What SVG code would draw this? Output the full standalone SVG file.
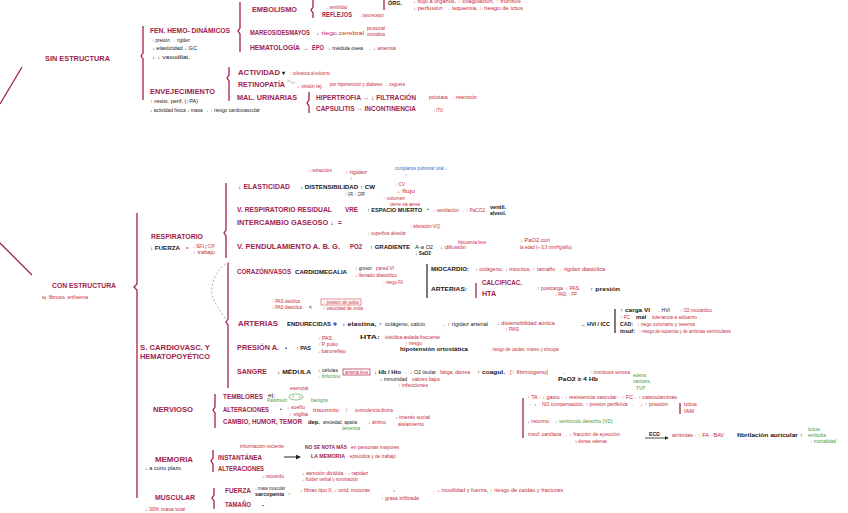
<svg xmlns="http://www.w3.org/2000/svg" width="848" height="513" viewBox="0 0 848 513">
<defs>
<marker id="ah" viewBox="0 0 6 6" refX="5" refY="3" markerWidth="5" markerHeight="5" orient="auto"><path d="M0,0 L6,3 L0,6 z" fill="#222"/></marker>
</defs>
<style>
text{font-family:"Liberation Sans",Arial,sans-serif}
.H{font-weight:bold;font-size:8px;fill:#a0234d}
.h{font-weight:bold;font-size:6.3px;fill:#a0234d}
.k{font-size:4.5px;fill:#222}
.kb{font-weight:bold;font-size:5.5px;fill:#151515}
.r{font-size:4.5px;fill:#c62a3a}
.g{font-size:4.5px;fill:#3f9a3f}
.b{font-size:4.5px;fill:#3a64c8}
.br{fill:none;stroke:#a0234d;stroke-width:1.3}
.bk{fill:none;stroke:#222;stroke-width:1.2}
.ds{fill:none;stroke:#999;stroke-width:.8;stroke-dasharray:2 2}
</style>
<rect width="848" height="513" fill="#fff"/>

<g id="connectors">
<path class="br" d="M0,104 L22,67"/>
<path class="br" d="M0,243 L32,275"/>
<path class="br" d="M143,26 V53 l-2,3 l2,3 V100"/>
<path class="br" d="M240,2 V28 l-2,3 l2,3 V52"/>
<path class="br" d="M229,67 V75 l-2,3 l2,3 V101"/>
<path class="br" d="M313,0 V7 l-2,3 l2,3 V18"/>
<path class="br" d="M384,0 V10"/>
<path class="br" d="M309,92 V100 l-2,3 l2,3 V113"/>
<path class="br" d="M137,213 V284 l-3,3 l3,3 V498"/>
<path class="br" d="M226,183 V230 l-2,3 l2,3 V258"/>
<path class="br" d="M228,263 V319 l-2,3 l2,3 V388"/>
<path class="ds" d="M229,262 C214,270 209,288 213,298 S224,316 228,323"/>
<path class="bk" d="M427,264 V298"/>
<path class="br" d="M476,283 V298"/>
<path class="bk" d="M615,309 V333"/>
<path class="br" d="M215,394 V407 l-2,3 l2,3 V428"/>
<path class="br" d="M213,450 V458 l-2,3 l2,3 V472"/>
<path class="br" d="M214,488 V495 l-2,3 l2,3 V509"/>
<path class="br" d="M523,398 V438"/>
<path class="br" d="M680,403 V414"/>
<path d="M284,457 H300" stroke="#222" stroke-width="1" marker-end="url(#ah)"/>
<path d="M645,438 H668" stroke="#222" stroke-width=".8" marker-end="url(#ah)"/>
<path d="M287,82 q2,-3 4,0 t4,0" fill="none" stroke="#888" stroke-width=".6"/>
</g>

<g id="n-sin"><text class="H" x="45" y="61" textLength="65" lengthAdjust="spacingAndGlyphs">SIN ESTRUCTURA</text></g>

<g id="n-fen">
<text class="h" x="150" y="33" textLength="80" lengthAdjust="spacingAndGlyphs">FEN. HEMO- DINÁMICOS</text>
<text class="k" x="152" y="42" textLength="38" lengthAdjust="spacingAndGlyphs">↑ presión → rigidez</text>
<text class="k" x="152" y="50" textLength="45" lengthAdjust="spacingAndGlyphs">↓ elasticidad ↓ GC</text>
<text class="k" x="152" y="59" textLength="38" lengthAdjust="spacingAndGlyphs">↓ ↓ vasodilat.</text>
</g>

<g id="n-env">
<text class="h" x="150" y="94" textLength="65" lengthAdjust="spacingAndGlyphs">ENVEJECIMIENTO</text>
<text class="k" x="150" y="103" textLength="48" lengthAdjust="spacingAndGlyphs">↑ resist. perif. (↑PA)</text>
<text class="k" x="150" y="112" textLength="110" lengthAdjust="spacingAndGlyphs">↓ actividad física ↓ masa → ↑ riesgo cardiovascular</text>
</g>

<g id="n-emb">
<text class="h" x="252" y="12" textLength="45" lengthAdjust="spacingAndGlyphs">EMBOLISMO</text>
<text class="kb" x="388" y="5" textLength="14" lengthAdjust="spacingAndGlyphs">ÓRG.</text>
<text class="r" x="413" y="3" textLength="115" lengthAdjust="spacingAndGlyphs">↓ flujo a órganos, ↑ coagulación, ↑ trombos →</text>
<text class="r" x="413" y="10" textLength="110" lengthAdjust="spacingAndGlyphs">↓ perfusión → isquemia, ↑ riesgo de ictus</text>
<text class="h" x="322" y="17" textLength="30" lengthAdjust="spacingAndGlyphs">REFLEJOS</text>
<text class="r" x="360" y="17" textLength="24" lengthAdjust="spacingAndGlyphs">↓ barorreceptor</text>
<text class="r" x="327" y="9" textLength="20" lengthAdjust="spacingAndGlyphs">↓ sensibilidad</text>
</g>

<g id="n-mar">
<text class="h" x="250" y="35" textLength="60" lengthAdjust="spacingAndGlyphs">MAREOS/DESMAYOS</text>
<text class="r" x="316" y="35" textLength="48" lengthAdjust="spacingAndGlyphs">↓ riego cerebral</text>
<text class="r" x="367" y="30" textLength="18" lengthAdjust="spacingAndGlyphs">postural</text>
<text class="r" x="367" y="36" textLength="18" lengthAdjust="spacingAndGlyphs">ortostática</text>
</g>

<g id="n-hem">
<text class="h" x="250" y="50" textLength="50" lengthAdjust="spacingAndGlyphs">HEMATOLOGÍA</text>
<text class="kb" x="303" y="50">→</text>
<text class="h" x="312" y="50" textLength="12" lengthAdjust="spacingAndGlyphs">EPO</text>
<text class="k" x="328" y="50" textLength="35" lengthAdjust="spacingAndGlyphs">↓ médula ósea</text>
<text class="r" x="366" y="50" textLength="30" lengthAdjust="spacingAndGlyphs">→ ↓ anemia</text>
</g>

<g id="n-act">
<text class="h" x="238" y="75" textLength="42" lengthAdjust="spacingAndGlyphs">ACTIVIDAD</text>
<text class="kb" x="282" y="75">▾</text>
<text class="r" x="290" y="75" textLength="40" lengthAdjust="spacingAndGlyphs">↓ tolerancia al esfuerzo</text>
</g>

<g id="n-ret">
<text class="h" x="238" y="87" textLength="47" lengthAdjust="spacingAndGlyphs">RETINOPATÍA</text>
<text class="r" x="297" y="88" textLength="26" lengthAdjust="spacingAndGlyphs">↓ visión lej.</text>
<text class="r" x="330" y="86" textLength="75" lengthAdjust="spacingAndGlyphs">por hipertensión y diabetes → ceguera</text>
</g>

<g id="n-mal">
<text class="h" x="237" y="100" textLength="60" lengthAdjust="spacingAndGlyphs">MAL. URINARIAS</text>
<text class="h" x="316" y="100" textLength="100" lengthAdjust="spacingAndGlyphs">HIPERTROFIA → ↓ FILTRACIÓN</text>
<text class="r" x="429" y="99" textLength="48" lengthAdjust="spacingAndGlyphs">próstata → retención</text>
<text class="h" x="316" y="111" textLength="100" lengthAdjust="spacingAndGlyphs">CAPSULITIS → INCONTINENCIA</text>
<text class="r" x="433" y="112" textLength="10" lengthAdjust="spacingAndGlyphs">↑ ITU</text>
</g>

<g id="n-con">
<text class="H" x="52" y="288" textLength="64" lengthAdjust="spacingAndGlyphs">CON ESTRUCTURA</text>
<text class="r" x="42" y="299" textLength="46" lengthAdjust="spacingAndGlyphs">ej. fibrosis, enfisema</text>
</g>

<g id="n-resp">
<text class="h" x="151" y="239" textLength="52" lengthAdjust="spacingAndGlyphs">RESPIRATORIO</text>
<text class="kb" x="150" y="250" textLength="30" lengthAdjust="spacingAndGlyphs">↓ FUERZA</text>
<text class="r" x="186" y="250">=</text>
<text class="r" x="193" y="248" textLength="22" lengthAdjust="spacingAndGlyphs">↓ VEF1 y CVF</text>
<text class="r" x="193" y="254" textLength="22" lengthAdjust="spacingAndGlyphs">↑ trabajo</text>
</g>

<g id="n-elas">
<text class="h" x="238" y="189" textLength="52" lengthAdjust="spacingAndGlyphs">↓ ELASTICIDAD</text>
<text class="kb" x="300" y="189" textLength="75" lengthAdjust="spacingAndGlyphs">↓ DISTENSIBILIDAD ↑ CW</text>
<text class="r" x="308" y="172" textLength="24" lengthAdjust="spacingAndGlyphs">↓ retracción</text>
<text class="r" x="345" y="174" textLength="22" lengthAdjust="spacingAndGlyphs">↑ rigidez</text>
<text class="k" x="350" y="180">↑</text>
<text class="b" x="395" y="170" textLength="52" lengthAdjust="spacingAndGlyphs">compliance pulmonar total ↓</text>
<text class="b" x="405" y="176">↓</text>
<text class="k" x="345" y="196" textLength="20" lengthAdjust="spacingAndGlyphs">↑ VR, ↑ CRF</text>
<text class="r" x="395" y="186" textLength="10" lengthAdjust="spacingAndGlyphs">↑ CV</text>
<text class="r" x="397" y="193" textLength="18" lengthAdjust="spacingAndGlyphs">↓ flujo</text>
</g>

<g id="n-vr">
<text class="h" x="237" y="212" textLength="95" lengthAdjust="spacingAndGlyphs">V. RESPIRATORIO RESIDUAL</text>
<text class="h" x="345" y="212" textLength="13" lengthAdjust="spacingAndGlyphs">VRE</text>
<text class="kb" x="367" y="212" textLength="55" lengthAdjust="spacingAndGlyphs">↑ ESPACIO MUERTO</text>
<text class="k" x="427" y="211">•</text>
<text class="r" x="433" y="212" textLength="52" lengthAdjust="spacingAndGlyphs">↓ ventilación → ↑ PaCO2</text>
<text class="kb" x="490" y="209" textLength="16" lengthAdjust="spacingAndGlyphs">ventil.</text>
<text class="kb" x="490" y="215" textLength="16" lengthAdjust="spacingAndGlyphs">alveol.</text>
<text class="r" x="383" y="200" textLength="22" lengthAdjust="spacingAndGlyphs">↑ volumen</text>
<text class="r" x="390" y="205.5" textLength="30" lengthAdjust="spacingAndGlyphs">cierre vía aérea</text>
</g>

<g id="n-ig">
<text class="h" x="237" y="225" textLength="97" lengthAdjust="spacingAndGlyphs">INTERCAMBIO GASEOSO ↓</text>
<text class="h" x="338" y="225">=</text>
<text class="r" x="368" y="234.5" textLength="38" lengthAdjust="spacingAndGlyphs">↓ superficie alveolar</text>
<text class="r" x="410" y="228" textLength="30" lengthAdjust="spacingAndGlyphs">↑ alteración V/Q</text>
</g>

<g id="n-vp">
<text class="h" x="237" y="249" textLength="103" lengthAdjust="spacingAndGlyphs">V. PENDULAMIENTO A. B. G.</text>
<text class="h" x="350" y="249" textLength="12" lengthAdjust="spacingAndGlyphs">PO2</text>
<text class="kb" x="370" y="249" textLength="40" lengthAdjust="spacingAndGlyphs">↑ GRADIENTE</text>
<text class="k" x="415" y="249" textLength="18" lengthAdjust="spacingAndGlyphs">A-a O2</text>
<text class="kb" x="415" y="255" textLength="16" lengthAdjust="spacingAndGlyphs">↓ SaO2</text>
<text class="r" x="440" y="249" textLength="26" lengthAdjust="spacingAndGlyphs">↓ difusión</text>
<text class="r" x="458" y="243.5" textLength="28" lengthAdjust="spacingAndGlyphs">hipoxemia leve</text>
<text class="r" x="520" y="242" textLength="30" lengthAdjust="spacingAndGlyphs">↓ PaO2 con</text>
<text class="r" x="520" y="249" textLength="52" lengthAdjust="spacingAndGlyphs">la edad (≈ 0,3 mmHg/año)</text>
</g>

<g id="n-cardio">
<text class="h" x="140" y="350" textLength="70" lengthAdjust="spacingAndGlyphs">S. CARDIOVASC. Y</text>
<text class="h" x="140" y="359" textLength="70" lengthAdjust="spacingAndGlyphs">HEMATOPOYÉTICO</text>
</g>

<g id="n-cor">
<text class="h" x="237" y="274" textLength="54" lengthAdjust="spacingAndGlyphs">CORAZÓN/VASOS</text>
<text class="kb" x="295" y="274" textLength="52" lengthAdjust="spacingAndGlyphs">CARDIOMEGALIA</text>
<text class="k" x="355" y="270" textLength="17" lengthAdjust="spacingAndGlyphs">↑ grosor</text>
<text class="r" x="376" y="270" textLength="18" lengthAdjust="spacingAndGlyphs">pared VI</text>
<text class="r" x="355" y="277" textLength="42" lengthAdjust="spacingAndGlyphs">↓ llenado diastólico</text>
<text class="r" x="383" y="283.5" textLength="20" lengthAdjust="spacingAndGlyphs">↑ riesgo FA</text>
<text class="kb" x="431" y="271" textLength="38" lengthAdjust="spacingAndGlyphs">MIOCARDIO:</text>
<text class="r" x="475" y="271" textLength="130" lengthAdjust="spacingAndGlyphs">↑ colágeno, ↓ miocitos, ↑ tamaño → rigidez diastólica</text>
<text class="kb" x="431" y="291" textLength="36" lengthAdjust="spacingAndGlyphs">ARTERIAS:</text>
<text class="h" x="482" y="285" textLength="40" lengthAdjust="spacingAndGlyphs">CALCIFICAC.</text>
<text class="h" x="482" y="296" textLength="14" lengthAdjust="spacingAndGlyphs">HTA</text>
<text class="r" x="537" y="290" textLength="42" lengthAdjust="spacingAndGlyphs">↑ postcarga, ↑ PAS</text>
<text class="r" x="555" y="296" textLength="22" lengthAdjust="spacingAndGlyphs">↓ PAD, ↑ PP</text>
<text class="kb" x="590" y="291" textLength="30" lengthAdjust="spacingAndGlyphs">↑ presión</text>
</g>

<g id="n-art">
<text class="r" x="272" y="303" textLength="28" lengthAdjust="spacingAndGlyphs">↑ PAS sistólica</text>
<text class="r" x="272" y="309" textLength="30" lengthAdjust="spacingAndGlyphs">↓ PAD diastólica</text>
<text class="h" x="309" y="309" style="font-size:5px">&lt;</text>
<rect x="321" y="299" width="40" height="6" fill="none" stroke="#c62a3a" stroke-width=".5"/>
<text class="r" x="323" y="303.5" textLength="36" lengthAdjust="spacingAndGlyphs">↑ presión de pulso</text>
<text class="r" x="323" y="310" textLength="40" lengthAdjust="spacingAndGlyphs">↑ velocidad de onda</text>
<text class="h" x="238" y="326" textLength="40" lengthAdjust="spacingAndGlyphs">ARTERIAS</text>
<text class="kb" x="287" y="326" textLength="44" lengthAdjust="spacingAndGlyphs">ENDURECIDAS</text>
<circle cx="335" cy="324" r="1.8" fill="#3a64c8"/>
<text class="kb" x="342" y="326" textLength="40" lengthAdjust="spacingAndGlyphs">↓ elastina, ↑</text>
<text class="k" x="385" y="326" textLength="40" lengthAdjust="spacingAndGlyphs">colágeno, calcio</text>
<text class="k" x="440" y="326" textLength="48" lengthAdjust="spacingAndGlyphs">→ ↑ rigidez arterial</text>
<text class="r" x="497" y="325" textLength="58" lengthAdjust="spacingAndGlyphs">↓ distensibilidad aórtica</text>
<text class="r" x="505" y="331" textLength="14" lengthAdjust="spacingAndGlyphs">↑ PAS</text>
<text class="r" x="440" y="334">·</text>
<text class="kb" x="580" y="326" textLength="30" lengthAdjust="spacingAndGlyphs">→ HVI / ICC</text>
<text class="kb" x="620" y="312" textLength="30" lengthAdjust="spacingAndGlyphs">↑ carga VI</text>
<text class="k" x="655" y="312" textLength="15" lengthAdjust="spacingAndGlyphs">→ HVI</text>
<text class="r" x="680" y="312" textLength="32" lengthAdjust="spacingAndGlyphs">↑ O2 miocárdico</text>
<text class="r" x="620" y="319" textLength="10" lengthAdjust="spacingAndGlyphs">↑ FC</text>
<text class="kb" x="636" y="319" textLength="10" lengthAdjust="spacingAndGlyphs">mal</text>
<text class="r" x="652" y="319" textLength="45" lengthAdjust="spacingAndGlyphs">tolerancia a esfuerzo</text>
<text class="kb" x="620" y="326" textLength="13" lengthAdjust="spacingAndGlyphs">CAD:</text>
<text class="r" x="637" y="326" textLength="58" lengthAdjust="spacingAndGlyphs">↓ riego coronario y reserva</text>
<text class="kb" x="620" y="333" textLength="15" lengthAdjust="spacingAndGlyphs">insuf:</text>
<text class="r" x="639" y="333" textLength="92" lengthAdjust="spacingAndGlyphs">↑ riesgo de isquemia y de arritmias ventriculares</text>
</g>

<g id="n-pres">
<text class="h" x="237" y="350" textLength="42" lengthAdjust="spacingAndGlyphs">PRESIÓN A.</text>
<text class="kb" x="285" y="350">•</text>
<text class="kb" x="296" y="350" textLength="15" lengthAdjust="spacingAndGlyphs">↑ PAS</text>
<text class="r" x="318" y="340" textLength="14" lengthAdjust="spacingAndGlyphs">↑ PAS</text>
<text class="r" x="318" y="346" textLength="20" lengthAdjust="spacingAndGlyphs">↑ P. pulso</text>
<text class="r" x="318" y="353" textLength="28" lengthAdjust="spacingAndGlyphs">↓ barorreflejo</text>
<text class="kb" x="360" y="339" textLength="20" lengthAdjust="spacingAndGlyphs">HTA:</text>
<text class="r" x="385" y="339" textLength="55" lengthAdjust="spacingAndGlyphs">sistólica aislada frecuente</text>
<text class="r" x="405" y="345" textLength="17" lengthAdjust="spacingAndGlyphs">↑ riesgo</text>
<text class="kb" x="400" y="351" textLength="68" lengthAdjust="spacingAndGlyphs">hipotensión ortostática</text>
<text class="r" x="487" y="351" textLength="72" lengthAdjust="spacingAndGlyphs">→ riesgo de caídas, mareo y síncope</text>
</g>

<g id="n-sang">
<text class="h" x="237" y="374" textLength="30" lengthAdjust="spacingAndGlyphs">SANGRE</text>
<text class="kb" x="277" y="374" textLength="34" lengthAdjust="spacingAndGlyphs">↓ MÉDULA</text>
<text class="k" x="318" y="372" textLength="20" lengthAdjust="spacingAndGlyphs">↓ células</text>
<text class="g" x="318" y="378" textLength="22" lengthAdjust="spacingAndGlyphs">↓ linfocitos</text>
<rect x="343" y="369" width="27" height="6" fill="none" stroke="#a0234d" stroke-width=".7"/>
<text class="r" x="345" y="373.5" textLength="23" lengthAdjust="spacingAndGlyphs">anemia leve</text>
<text class="kb" x="374" y="374" textLength="27" lengthAdjust="spacingAndGlyphs">↓ Hb / Hto</text>
<text class="k" x="403" y="374">→</text>
<text class="k" x="410" y="374" textLength="26" lengthAdjust="spacingAndGlyphs">↓ O2 tisular</text>
<text class="r" x="440" y="374" textLength="30" lengthAdjust="spacingAndGlyphs">fatiga, disnea</text>
<text class="kb" x="477" y="374" textLength="28" lengthAdjust="spacingAndGlyphs">↑ coagul.</text>
<text class="r" x="510" y="374" textLength="38" lengthAdjust="spacingAndGlyphs">[↑ fibrinógeno]</text>
<text class="r" x="558" y="374" textLength="8" lengthAdjust="spacingAndGlyphs">→</text>
<text class="r" x="590" y="374" textLength="40" lengthAdjust="spacingAndGlyphs">↑ trombosis venosa</text>
<text class="kb" x="558" y="381" textLength="40" lengthAdjust="spacingAndGlyphs">PaO2 ≥ 4 Hb</text>
<text class="k" x="380" y="381" textLength="27" lengthAdjust="spacingAndGlyphs">↓ inmunidad</text>
<text class="r" x="412" y="381" textLength="28" lengthAdjust="spacingAndGlyphs">valores bajos</text>
<text class="r" x="398" y="387" textLength="30" lengthAdjust="spacingAndGlyphs">↑ infecciones</text>
<text class="g" x="633" y="377" textLength="14" lengthAdjust="spacingAndGlyphs">edema,</text>
<text class="g" x="633" y="383" textLength="18" lengthAdjust="spacingAndGlyphs">varices,</text>
<text class="g" x="636" y="390" textLength="9" lengthAdjust="spacingAndGlyphs">TVP</text>
</g>

<g id="n-right">
<text class="r" x="527" y="399" textLength="150" lengthAdjust="spacingAndGlyphs">↑ TA · ↓ gasto · ↑ resistencia vascular · ↑ FC · ↑ catecolaminas</text>
<text class="g" x="529" y="406" textLength="8" lengthAdjust="spacingAndGlyphs">· ↓</text>
<text class="r" x="542" y="406" textLength="92" lengthAdjust="spacingAndGlyphs">NO compensación, ↑ presión periférica →</text>
<text class="r" x="640" y="406" textLength="28" lengthAdjust="spacingAndGlyphs">↓ ↑ presión</text>
<text class="r" x="684" y="406" textLength="13" lengthAdjust="spacingAndGlyphs">ictus</text>
<text class="r" x="684" y="413" textLength="10" lengthAdjust="spacingAndGlyphs">IAM</text>
<text class="r" x="527" y="423" textLength="22" lengthAdjust="spacingAndGlyphs">↓ retorno</text>
<text class="g" x="555" y="423" textLength="58" lengthAdjust="spacingAndGlyphs">↓ ventrículo derecho (VD)</text>
<text class="r" x="528" y="436" textLength="92" lengthAdjust="spacingAndGlyphs">insuf. cardíaca → ↓ fracción de eyección</text>
<text class="r" x="575" y="443" textLength="32" lengthAdjust="spacingAndGlyphs">≈ disnea, edemas</text>
<text class="kb" x="649" y="436" textLength="11" lengthAdjust="spacingAndGlyphs">ECG</text>
<text class="r" x="672" y="437" textLength="52" lengthAdjust="spacingAndGlyphs">arritmias · ↑ FA · BAV</text>
<text class="kb" x="737" y="437" textLength="66" lengthAdjust="spacingAndGlyphs">fibrilación auricular ↑</text>
<text class="g" x="808" y="431" textLength="12" lengthAdjust="spacingAndGlyphs">ictus</text>
<text class="g" x="808" y="437" textLength="18" lengthAdjust="spacingAndGlyphs">embolia</text>
<text class="g" x="810" y="443" textLength="26" lengthAdjust="spacingAndGlyphs">↑ mortalidad</text>
</g>

<g id="n-nerv">
<text class="h" x="153" y="412" textLength="40" lengthAdjust="spacingAndGlyphs">NERVIOSO</text>
<text class="h" x="223" y="399" textLength="40" lengthAdjust="spacingAndGlyphs">TEMBLORES</text>
<text class="k" x="268" y="396.5" textLength="7" lengthAdjust="spacingAndGlyphs">ej:</text>
<text class="g" x="267" y="402" textLength="20" lengthAdjust="spacingAndGlyphs">Parkinson</text>
<ellipse cx="296" cy="397" rx="7" ry="3" fill="none" stroke="#3f9a3f" stroke-width=".6"/>
<text class="r" x="291" y="398" textLength="11" lengthAdjust="spacingAndGlyphs">↑ ↓</text>
<text class="r" x="290" y="390" textLength="18" lengthAdjust="spacingAndGlyphs">esencial</text>
<text class="g" x="311" y="402" textLength="17" lengthAdjust="spacingAndGlyphs">benigno</text>
<text class="h" x="223" y="412" textLength="46" lengthAdjust="spacingAndGlyphs">ALTERACIONES</text>
<text class="k" x="280" y="411">•</text>
<text class="r" x="287" y="409" textLength="18" lengthAdjust="spacingAndGlyphs">↓ sueño</text>
<text class="r" x="289" y="415.5" textLength="19" lengthAdjust="spacingAndGlyphs">↑ vigilia</text>
<text class="r" x="313" y="412" textLength="26" lengthAdjust="spacingAndGlyphs">insomnio</text>
<text class="r" x="346" y="412">/</text>
<text class="r" x="355" y="412" textLength="38" lengthAdjust="spacingAndGlyphs">somnolencia diurna</text>
<text class="h" x="223" y="424" textLength="79" lengthAdjust="spacingAndGlyphs">CAMBIO, HUMOR, TEMOR</text>
<text class="kb" x="308" y="424" textLength="12" lengthAdjust="spacingAndGlyphs">dep.</text>
<text class="k" x="323" y="424" textLength="34" lengthAdjust="spacingAndGlyphs">ansiedad, apatía</text>
<text class="g" x="342" y="430" textLength="18" lengthAdjust="spacingAndGlyphs">demencia</text>
<text class="r" x="368" y="424" textLength="18" lengthAdjust="spacingAndGlyphs">↓ ánimo</text>
<text class="r" x="395" y="419" textLength="35" lengthAdjust="spacingAndGlyphs">↓ interés social</text>
<text class="r" x="398" y="425.5" textLength="26" lengthAdjust="spacingAndGlyphs">aislamiento</text>
</g>

<g id="n-mem">
<text class="h" x="155" y="462" textLength="38" lengthAdjust="spacingAndGlyphs">MEMORIA</text>
<text class="k" x="145" y="470" textLength="36" lengthAdjust="spacingAndGlyphs">↓ a corto plazo</text>
<text class="h" x="218" y="460" textLength="44" lengthAdjust="spacingAndGlyphs">INSTANTÁNEA</text>
<text class="r" x="240" y="448" textLength="44" lengthAdjust="spacingAndGlyphs">información reciente</text>
<text class="h" x="305" y="449" style="font-size:5px" textLength="42" lengthAdjust="spacingAndGlyphs">NO SE NOTA MÁS</text>
<text class="r" x="351" y="449" textLength="48" lengthAdjust="spacingAndGlyphs">en personas mayores</text>
<text class="h" x="311" y="458" style="font-size:5px" textLength="34" lengthAdjust="spacingAndGlyphs">LA MEMORIA</text>
<text class="r" x="350" y="458" textLength="46" lengthAdjust="spacingAndGlyphs">episódica y de trabajo</text>
<text class="h" x="218" y="471" textLength="46" lengthAdjust="spacingAndGlyphs">ALTERACIONES</text>
<text class="r" x="262" y="478" textLength="22" lengthAdjust="spacingAndGlyphs">↓ recuerdo</text>
<text class="r" x="302" y="475" textLength="66" lengthAdjust="spacingAndGlyphs">↓ atención dividida · ↓ rapidez</text>
<text class="r" x="302" y="481" textLength="56" lengthAdjust="spacingAndGlyphs">↓ fluidez verbal y nominación</text>
</g>

<g id="n-mus">
<text class="h" x="155" y="500" textLength="40" lengthAdjust="spacingAndGlyphs">MUSCULAR</text>
<text class="r" x="145" y="511" textLength="40" lengthAdjust="spacingAndGlyphs">↓ 30% masa total</text>
<text class="h" x="225" y="493" textLength="26" lengthAdjust="spacingAndGlyphs">FUERZA</text>
<text class="k" x="255" y="489.5" textLength="30" lengthAdjust="spacingAndGlyphs">↓ masa muscular</text>
<text class="kb" x="255" y="495.5" textLength="29" lengthAdjust="spacingAndGlyphs">sarcopenia</text>
<text class="g" x="287" y="495" textLength="4" lengthAdjust="spacingAndGlyphs">↓</text>
<text class="r" x="300" y="492" textLength="70" lengthAdjust="spacingAndGlyphs">↓ fibras tipo II, ↓ unid. motoras</text>
<text class="r" x="392" y="492" textLength="4" lengthAdjust="spacingAndGlyphs">↓</text>
<text class="r" x="430" y="492" textLength="133" lengthAdjust="spacingAndGlyphs">→ ↓ movilidad y fuerza, ↑ riesgo de caídas y fracturas</text>
<text class="r" x="381" y="499.5" textLength="38" lengthAdjust="spacingAndGlyphs">↑ grasa infiltrada</text>
<text class="h" x="225" y="507" textLength="26" lengthAdjust="spacingAndGlyphs">TAMAÑO</text>
<text class="h" x="262" y="507">-</text>
</g>
</svg>
